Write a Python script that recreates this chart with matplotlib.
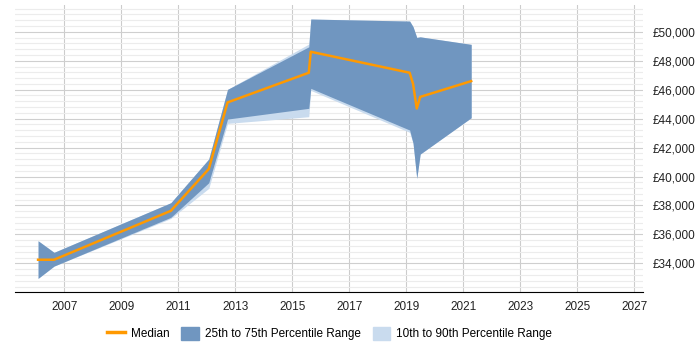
import matplotlib.pyplot as plt
from matplotlib.ticker import MultipleLocator, FuncFormatter
from matplotlib.lines import Line2D
from matplotlib.patches import Patch

plt.rcParams['font.family'] = ['Liberation Sans', 'DejaVu Sans']

# decimal years of each data point
years = [2006.08, 2006.64, 2010.74, 2012.07, 2012.73, 2015.58, 2015.65,
         2019.12, 2019.24, 2019.37, 2019.49, 2021.28]
median = [34250, 34250, 37630, 40520, 45120, 47170, 48620,
          47170, 46400, 44700, 45500, 46590]
p25 = [32960, 33810, 37180, 39570, 43970, 44710, 46090,
       43210, 42300, 39870, 41550, 44060]
p75 = [35560, 34760, 38190, 41210, 46020, 48960, 50880,
       50740, 50350, 49610, 49650, 49130]
p10 = [32960, 33810, 37100, 39180, 43670, 44130, 45950,
       43050, 42300, 39870, 41550, 44060]
p90 = [35560, 34760, 38190, 41210, 46020, 49150, 50880,
       50740, 50350, 49610, 49650, 49130]

year_ticks = list(range(2007, 2028, 2))

dark = '#7096c0'
light = '#c9dbee'
orange = '#ff9900'

fig = plt.figure(figsize=(7, 3.5), dpi=100)
ax = fig.add_axes([15 / 700, 1 - 292.3 / 350, (643 - 15) / 700, (292.3 - 5) / 350])

ax.fill_between(years, p10, p90, color=light, lw=0, zorder=2)
ax.fill_between(years, p25, p75, color=dark, lw=0, zorder=3)
ax.plot(years, median, color=orange, lw=1.8, zorder=4)

ax.set_xlim(2005.27, 2027.31)
ax.set_ylim(32000, 51850)
ax.set_xticks(year_ticks)
ax.set_xticklabels([str(y) for y in year_ticks])
ax.yaxis.set_major_locator(MultipleLocator(2000))
ax.yaxis.set_minor_locator(MultipleLocator(400))
ax.yaxis.set_major_formatter(FuncFormatter(
    lambda v, p: '' if v < 34000 else '£{:,.0f}'.format(v)))
ax.yaxis.tick_right()

ax.grid(axis='x', color='#cccccc', lw=0.8, zorder=0)
ax.grid(axis='y', which='major', color='#cfcfcf', lw=0.8, zorder=0)
ax.grid(axis='y', which='minor', color='#ececec', lw=0.8, zorder=0)
ax.set_axisbelow(True)

for s in ['top', 'left', 'right']:
    ax.spines[s].set_visible(False)
ax.spines['bottom'].set_color('black')
ax.tick_params(axis='both', which='both', length=0, labelsize=8.5, colors='#222222')
ax.tick_params(axis='x', pad=6)
ax.tick_params(axis='y', pad=7)

handles = [Line2D([0], [0], color=orange, lw=2.5),
           Patch(color=dark), Patch(color=light)]
labels = ['Median', '25th to 75th Percentile Range', '10th to 90th Percentile Range']
fig.legend(handles, labels, loc='center', bbox_to_anchor=(0.471, 0.047), ncol=3,
           frameon=False, fontsize=8.5, handlelength=1.5, handleheight=1.4,
           columnspacing=1.0, handletextpad=0.5)

fig.savefig('out.png', dpi=100)
